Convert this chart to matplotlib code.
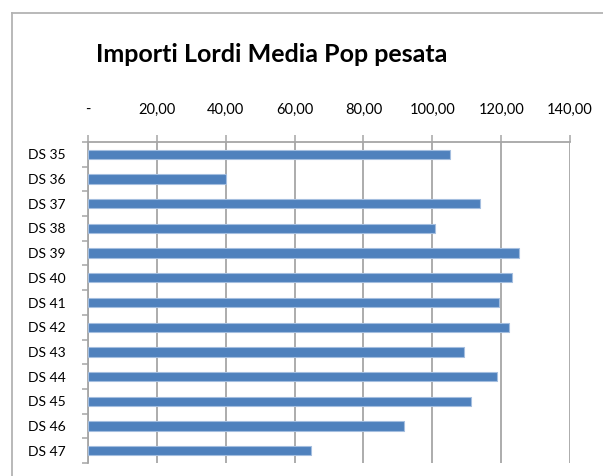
import matplotlib
matplotlib.use("Agg")
import matplotlib.pyplot as plt
from matplotlib.lines import Line2D
from matplotlib.ticker import FixedLocator

categories = ["DS 35", "DS 36", "DS 37", "DS 38", "DS 39", "DS 40", "DS 41",
              "DS 42", "DS 43", "DS 44", "DS 45", "DS 46", "DS 47"]
values = [105.0, 40.0, 113.9, 100.7, 125.3, 123.1, 119.4,
          122.3, 109.1, 118.7, 111.3, 91.9, 64.9]
xticks = [0, 20, 40, 60, 80, 100, 120, 140]
xticklabels = ["-", "20,00", "40,00", "60,00", "80,00", "100,00", "120,00", "140,00"]
title = "Importi Lordi Media Pop pesata"

W, H = 603, 476
fig = plt.figure(figsize=(W / 100, H / 100), dpi=100)
fig.patch.set_facecolor("white")

# chart area border (left + top)
fig.add_artist(Line2D([12 / W, 12 / W], [0, 1 - 13 / H], color="#b3b3b3", lw=1.3,
                      transform=fig.transFigure))
fig.add_artist(Line2D([12 / W, 1], [1 - 13 / H, 1 - 13 / H], color="#b3b3b3", lw=1.3,
                      transform=fig.transFigure))

ax = fig.add_axes([88 / W, 1 - 463 / H, 482 / W, 321 / H])
y = list(range(len(categories)))
ax.barh(y, values, height=0.38, color="#4F81BD", edgecolor="#a4bedf", linewidth=0.8,
        zorder=3)
ax.set_xlim(0, 140)
ax.set_ylim(len(categories) - 0.5, -0.5)

ax.xaxis.set_major_locator(FixedLocator(xticks))
ax.set_xticklabels(xticklabels)
ax.xaxis.tick_top()
ax.tick_params(axis="x", which="major", direction="out", length=5, width=1.1,
               color="#a6a6a6", pad=13, labelsize=10.5)
ax.grid(axis="x", color="#a6a6a6", linewidth=1.3, zorder=0)

ax.set_yticks(y)
ax.set_yticklabels(categories)
ax.set_yticks([i - 0.5 for i in range(len(categories) + 1)], minor=True)
ax.tick_params(axis="y", which="major", length=0, pad=16, labelsize=10)
ax.tick_params(axis="y", which="minor", direction="out", length=4, width=1.1,
               color="#a6a6a6")

for lab in ax.get_xticklabels() + ax.get_yticklabels():
    lab.set_fontfamily("Lato")

for s in ["bottom", "right"]:
    ax.spines[s].set_visible(False)
for s in ["top", "left"]:
    ax.spines[s].set_color("#a6a6a6")
    ax.spines[s].set_linewidth(1.3)

fig.text((100 + 443) / 2 / W, 1 - 55 / H, title, ha="center", va="center",
         fontsize=18, fontweight="bold", family="Lato")

fig.savefig("out.png", dpi=100)
